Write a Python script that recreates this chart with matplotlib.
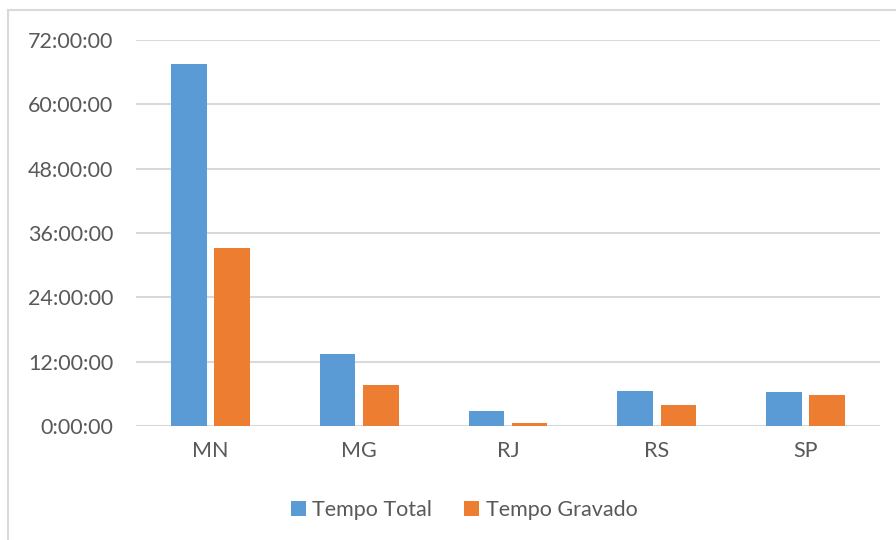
import matplotlib.pyplot as plt
import numpy as np
from matplotlib.patches import Rectangle

# hours per state
estados = ['MN', 'MG', 'RJ', 'RS', 'SP']
tempo_total = [67.6, 13.5, 2.75, 6.5, 6.25]
tempo_gravado = [33.2, 7.7, 0.56, 4.0, 5.8]
yticks = [0, 12, 24, 36, 48, 60, 72]

azul = '#5b9bd5'
laranja = '#ed7d31'
cinza = '#595959'

plt.rcParams['font.family'] = ['Lato', 'DejaVu Sans']

fig = plt.figure(figsize=(8.96, 5.4), dpi=100)
ax = fig.add_axes([136/896, 114/540, 744/896, 386/540])

x = np.arange(len(estados))
w = 0.24
ax.bar(x - 0.145, tempo_total, w, color=azul, label='Tempo Total', zorder=3)
ax.bar(x + 0.145, tempo_gravado, w, color=laranja, label='Tempo Gravado', zorder=3)

ax.set_xlim(-0.5, len(estados) - 0.5)
ax.set_ylim(0, 72)
ax.set_yticks(yticks)
ax.set_yticklabels([f'{h}:00:00' for h in yticks])
ax.set_xticks(x)
ax.set_xticklabels(estados)
ax.tick_params(length=0, colors=cinza, labelsize=15.5)
ax.tick_params(axis='y', pad=16.5)
ax.tick_params(axis='x', pad=11)

ax.grid(axis='y', color='#d9d9d9', linewidth=1.5, zorder=0)
for s in ax.spines.values():
    s.set_visible(False)

# legend sits centred on the whole chart area, not the plot
leg = fig.legend(*ax.get_legend_handles_labels(), loc='center',
                 bbox_to_anchor=(464/896, 30/540), ncol=2,
                 frameon=False, fontsize=15.5, handlelength=0.7, handleheight=0.7,
                 handletextpad=0.3, columnspacing=1.5)
for t in leg.get_texts():
    t.set_color(cinza)

# light frame around the chart
fig.patches.append(Rectangle((8/896, -0.1), 1.0, 1 - 10/540 + 0.1,
                             transform=fig.transFigure, fill=False,
                             edgecolor='#d9d9d9', linewidth=1.5))

fig.savefig('out.png', dpi=100)
